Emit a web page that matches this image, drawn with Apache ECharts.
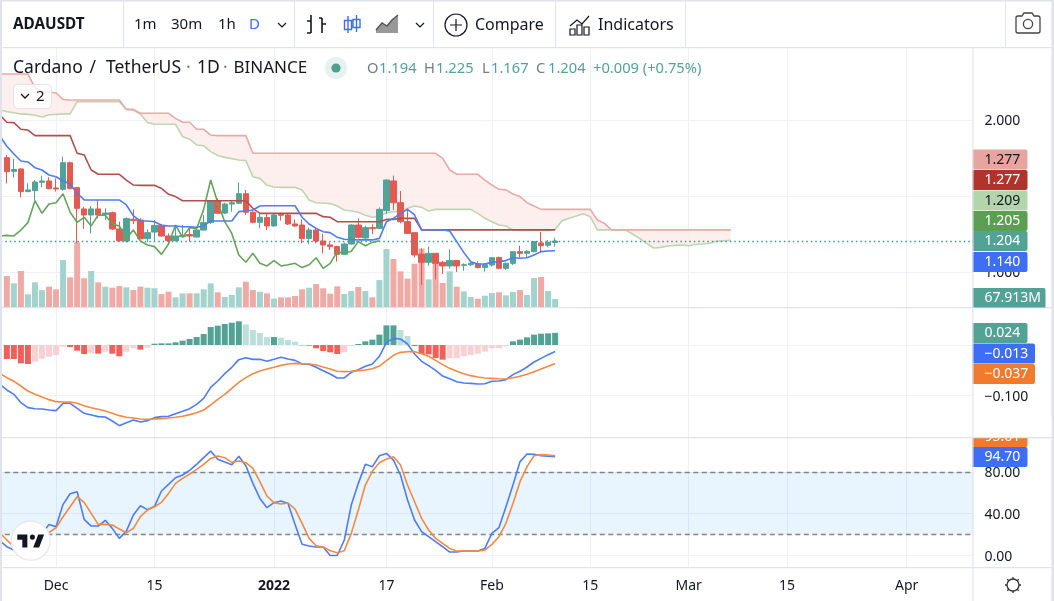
<!DOCTYPE html>
<html>
<head>
<meta charset="utf-8">
<title>ADAUSDT</title>
<script src="https://cdn.jsdelivr.net/npm/echarts@6/dist/echarts.min.js"></script>
<style>
  html, body { margin: 0; padding: 0; background: #fff; }
  #chart { width: 1054px; height: 601px; }
</style>
</head>
<body>
<div id="chart"></div>
<script>
// Daily sessions: the axis runs from 2021-11-23 to 2022-04-10.
function dayList(start, count) {
  const out = [];
  const t0 = Date.parse(start + 'T00:00:00Z');
  for (let k = 0; k < count; k++) out.push(new Date(t0 + k * 86400000).toISOString().slice(0, 10));
  return out;
}
const categories = dayList('2021-11-23', 139);
const tickLabels = {
  '2021-12-01': 'Dec', '2021-12-15': '15', '2022-01-01': '2022', '2022-01-17': '17',
  '2022-02-01': 'Feb', '2022-02-15': '15', '2022-03-01': 'Mar', '2022-03-15': '15', '2022-04-01': 'Apr'
};

// Candles start on 2021-11-24.
const opens = [1.752,1.662,1.678,1.529,1.535,1.590,1.599,1.553,1.544,1.719,1.555,1.415,1.375,1.415,1.379,1.390,1.283,1.204,1.347,1.342,1.219,1.263,1.307,1.237,1.206,1.232,1.246,1.230,1.276,1.325,1.469,1.388,1.447,1.452,1.515,1.393,1.327,1.358,1.303,1.379,1.375,1.316,1.309,1.221,1.276,1.204,1.178,1.167,1.116,1.184,1.309,1.224,1.292,1.287,1.404,1.599,1.456,1.331,1.259,1.118,1.064,1.123,1.064,1.040,1.075,1.044,1.048,1.053,1.029,1.046,1.096,1.024,1.057,1.134,1.123,1.134,1.191,1.176,1.194];
const highs = [1.770,1.743,1.682,1.583,1.605,1.634,1.623,1.616,1.759,1.726,1.561,1.430,1.434,1.474,1.419,1.397,1.331,1.360,1.412,1.353,1.281,1.342,1.316,1.254,1.309,1.309,1.287,1.281,1.375,1.474,1.485,1.456,1.469,1.590,1.540,1.401,1.386,1.386,1.386,1.390,1.382,1.346,1.346,1.292,1.285,1.250,1.195,1.173,1.193,1.314,1.353,1.305,1.314,1.425,1.610,1.634,1.533,1.419,1.259,1.156,1.167,1.123,1.072,1.149,1.075,1.057,1.075,1.070,1.057,1.096,1.101,1.061,1.134,1.173,1.145,1.200,1.263,1.211,1.225];
const lows = [1.583,1.621,1.491,1.525,1.469,1.557,1.544,1.529,1.535,1.544,1.189,1.283,1.254,1.353,1.342,1.276,1.200,1.193,1.316,1.215,1.195,1.200,1.232,1.178,1.200,1.232,1.200,1.226,1.272,1.316,1.382,1.382,1.397,1.447,1.375,1.320,1.287,1.276,1.298,1.338,1.309,1.296,1.189,1.182,1.189,1.123,1.145,1.068,1.112,1.180,1.221,1.217,1.250,1.283,1.382,1.408,1.320,1.250,1.096,0.915,1.040,0.952,0.987,1.022,1.000,1.009,1.040,1.024,1.002,1.035,1.018,1.013,1.046,1.096,1.096,1.129,1.127,1.162,1.167];
const closes = [1.660,1.675,1.529,1.540,1.592,1.599,1.548,1.546,1.719,1.550,1.419,1.375,1.415,1.375,1.388,1.283,1.206,1.351,1.338,1.219,1.259,1.307,1.237,1.206,1.237,1.241,1.237,1.276,1.325,1.469,1.386,1.447,1.456,1.515,1.393,1.327,1.360,1.303,1.375,1.373,1.316,1.303,1.221,1.276,1.204,1.178,1.167,1.116,1.184,1.309,1.228,1.292,1.285,1.412,1.605,1.456,1.331,1.254,1.112,1.064,1.123,1.057,1.040,1.075,1.040,1.048,1.057,1.029,1.048,1.094,1.024,1.057,1.134,1.123,1.136,1.200,1.173,1.195,1.204];
// Volume in millions, same dates as the candles.
const volumes = [263,201,306,108,210,144,173,150,399,252,550,244,306,210,173,164,178,167,144,173,164,159,110,130,82,116,116,116,150,201,125,85,102,167,215,144,130,116,71,82,82,93,150,164,195,159,113,176,110,136,170,136,82,229,493,408,303,241,368,496,235,380,204,303,173,133,85,71,96,119,125,99,128,144,102,246,255,136,67.913];

// Ichimoku lines, from 2021-11-23. The two cloud spans run 25 sessions past the last candle.
const conversionLine = [1.895,1.827,1.776,1.730,1.724,1.686,1.671,1.638,1.627,1.599,1.579,1.518,1.474,1.474,1.474,1.474,1.474,1.474,1.441,1.369,1.336,1.336,1.331,1.307,1.303,1.303,1.298,1.298,1.294,1.303,1.336,1.336,1.336,1.336,1.397,1.401,1.408,1.434,1.436,1.436,1.436,1.436,1.436,1.360,1.316,1.287,1.265,1.259,1.228,1.215,1.213,1.211,1.211,1.211,1.221,1.331,1.353,1.386,1.412,1.375,1.277,1.277,1.277,1.277,1.270,1.200,1.129,1.068,1.053,1.053,1.064,1.068,1.075,1.094,1.090,1.094,1.112,1.134,1.138,1.140];
const baseLine = [2.033,1.985,1.983,1.939,1.934,1.897,1.897,1.897,1.897,1.897,1.897,1.781,1.770,1.671,1.643,1.643,1.643,1.643,1.605,1.572,1.570,1.570,1.570,1.550,1.511,1.496,1.469,1.469,1.469,1.469,1.469,1.469,1.469,1.469,1.469,1.469,1.419,1.386,1.386,1.386,1.386,1.386,1.386,1.386,1.386,1.386,1.364,1.360,1.331,1.331,1.331,1.331,1.331,1.331,1.331,1.346,1.346,1.353,1.353,1.353,1.277,1.277,1.277,1.277,1.277,1.277,1.277,1.277,1.277,1.277,1.277,1.277,1.277,1.277,1.277,1.277,1.277,1.277,1.277,1.277];
const laggingSpan = [1.237,1.241,1.237,1.276,1.325,1.469,1.386,1.447,1.456,1.515,1.393,1.327,1.360,1.303,1.375,1.373,1.316,1.303,1.221,1.276,1.204,1.178,1.167,1.116,1.184,1.309,1.228,1.292,1.285,1.412,1.605,1.456,1.331,1.254,1.112,1.064,1.123,1.057,1.040,1.075,1.040,1.048,1.057,1.029,1.048,1.094,1.024,1.057,1.134,1.123,1.136,1.200,1.173,1.195,1.205];
const leadingSpanA = [2.066,2.055,2.048,2.040,2.037,2.031,2.020,2.035,2.037,2.040,2.040,2.121,2.121,2.121,2.121,2.121,2.121,2.121,2.070,2.064,2.040,1.983,1.972,1.972,1.972,1.972,1.890,1.875,1.836,1.831,1.792,1.766,1.754,1.746,1.737,1.733,1.627,1.616,1.572,1.559,1.557,1.557,1.557,1.540,1.474,1.456,1.454,1.450,1.434,1.408,1.401,1.393,1.373,1.360,1.368,1.390,1.397,1.397,1.419,1.434,1.425,1.401,1.412,1.412,1.412,1.412,1.412,1.412,1.386,1.353,1.331,1.309,1.303,1.276,1.274,1.274,1.274,1.274,1.274,1.281,1.338,1.353,1.368,1.384,1.364,1.277,1.277,1.277,1.277,1.277,1.250,1.222,1.189,1.158,1.162,1.171,1.175,1.178,1.173,1.182,1.184,1.189,1.204,1.206,1.209];
const leadingSpanB = [2.303,2.303,2.303,2.303,2.303,2.211,2.184,2.184,2.178,2.135,2.132,2.132,2.132,2.132,2.132,2.132,2.132,2.132,2.070,2.070,2.044,2.044,2.044,2.044,2.044,2.011,1.985,1.985,1.939,1.939,1.901,1.897,1.897,1.897,1.897,1.897,1.781,1.781,1.781,1.781,1.781,1.781,1.781,1.781,1.781,1.781,1.781,1.781,1.781,1.781,1.781,1.781,1.781,1.781,1.781,1.781,1.781,1.781,1.781,1.781,1.781,1.781,1.781,1.748,1.671,1.643,1.643,1.643,1.643,1.605,1.572,1.544,1.540,1.513,1.496,1.456,1.434,1.412,1.412,1.412,1.412,1.412,1.412,1.412,1.412,1.342,1.320,1.277,1.277,1.277,1.277,1.277,1.277,1.277,1.277,1.277,1.277,1.277,1.277,1.277,1.277,1.277,1.277,1.277,1.277];

// MACD pane. The histogram starts on 2021-11-24, both lines on 2021-11-23.
const macdHist = [-0.0277,-0.0277,-0.0363,-0.0376,-0.0330,-0.0271,-0.0231,-0.0198,-0.0033,-0.0040,-0.0112,-0.0178,-0.0165,-0.0172,-0.0132,-0.0172,-0.0224,-0.0132,-0.0066,-0.0092,-0.0053,0.0026,0.0033,0.0033,0.0053,0.0086,0.0119,0.0158,0.0218,0.0356,0.0383,0.0416,0.0442,0.0469,0.0409,0.0297,0.0238,0.0158,0.0158,0.0145,0.0099,0.0066,-0.0007,-0.0013,-0.0066,-0.0119,-0.0145,-0.0178,-0.0145,-0.0020,0.0020,0.0073,0.0106,0.0205,0.0389,0.0389,0.0297,0.0178,-0.0020,-0.0178,-0.0185,-0.0257,-0.0290,-0.0264,-0.0262,-0.0224,-0.0198,-0.0172,-0.0132,-0.0066,-0.0064,-0.0026,0.0073,0.0106,0.0152,0.0205,0.0224,0.0231,0.024];
const macdLine = [-0.0780,-0.0891,-0.0977,-0.1142,-0.1241,-0.1261,-0.1267,-0.1287,-0.1300,-0.1155,-0.1155,-0.1254,-0.1353,-0.1386,-0.1419,-0.1426,-0.1505,-0.1597,-0.1538,-0.1485,-0.1525,-0.1498,-0.1439,-0.1419,-0.1412,-0.1360,-0.1313,-0.1261,-0.1175,-0.1056,-0.0838,-0.0713,-0.0568,-0.0442,-0.0290,-0.0251,-0.0284,-0.0284,-0.0323,-0.0284,-0.0244,-0.0277,-0.0304,-0.0376,-0.0383,-0.0442,-0.0508,-0.0574,-0.0653,-0.0653,-0.0541,-0.0488,-0.0422,-0.0376,-0.0224,0.0053,0.0132,0.0119,0.0020,-0.0178,-0.0323,-0.0409,-0.0502,-0.0614,-0.0667,-0.0726,-0.0752,-0.0759,-0.0772,-0.0766,-0.0719,-0.0713,-0.0686,-0.0587,-0.0521,-0.0436,-0.0337,-0.0264,-0.0191,-0.013];
const signalLine = [-0.0561,-0.0647,-0.0719,-0.0812,-0.0911,-0.0977,-0.1030,-0.1082,-0.1122,-0.1129,-0.1129,-0.1155,-0.1201,-0.1241,-0.1274,-0.1307,-0.1353,-0.1399,-0.1432,-0.1445,-0.1465,-0.1472,-0.1465,-0.1459,-0.1445,-0.1432,-0.1412,-0.1379,-0.1340,-0.1287,-0.1188,-0.1076,-0.0977,-0.0858,-0.0739,-0.0647,-0.0568,-0.0515,-0.0475,-0.0442,-0.0403,-0.0376,-0.0363,-0.0370,-0.0376,-0.0396,-0.0436,-0.0475,-0.0521,-0.0528,-0.0521,-0.0508,-0.0495,-0.0469,-0.0416,-0.0310,-0.0205,-0.0145,-0.0132,-0.0132,-0.0172,-0.0224,-0.0304,-0.0389,-0.0462,-0.0521,-0.0568,-0.0607,-0.0634,-0.0653,-0.0660,-0.0667,-0.0673,-0.0647,-0.0620,-0.0581,-0.0528,-0.0475,-0.0422,-0.037];

// Stochastic RSI, from 2021-11-23.
const stochK = [14.0,8.4,5.2,5.2,10.0,14.8,21.2,29.8,27.6,49.0,59.2,61.1,34.6,28.2,28.2,33.7,26.0,16.4,23.4,38.8,47.7,43.9,47.1,61.8,68.1,74.5,77.1,81.6,87.3,93.7,100,92.1,89.5,87.0,95.0,86.0,69.1,54.7,45.8,50.6,52.2,49.9,29.8,10.7,9.1,8.1,8.1,0,0,14.8,48.3,69.1,87.3,85.1,95.6,97.8,91.4,77.1,53.1,34.0,22.8,18.0,13.2,8.4,3.3,3.3,4.3,4.3,4.3,6.8,21.2,26.6,46.7,67.5,89.9,97.2,96.9,95.6,95.0,94.70];
const stochD = [21.8,14.8,8.4,5.2,6.8,10.0,15.5,22.2,26.6,37.2,46.7,56.3,50.9,40.4,29.8,29.8,29.2,25.4,21.8,26.0,37.2,43.6,46.7,50.9,59.5,69.1,73.9,78.0,82.5,87.3,93.0,95.3,93.7,89.2,90.5,88.9,83.5,70.7,57.0,50.6,49.3,50.3,44.5,30.8,16.4,9.4,8.1,4.6,2.7,4.6,21.2,43.6,67.5,80.9,88.9,92.4,94.6,86.7,67.5,51.5,35.6,24.4,16.4,11.6,6.8,4.3,4.3,4.3,4.3,5.2,10.7,18.0,30.8,49.9,70.7,85.1,95.6,96.6,96.2,95.61];

// Palette
const UP = '#50a396', DOWN = '#e25a52';
const UP_SOFT = '#a3d3cd', DOWN_SOFT = '#f0aaa6';
const HIST_UP = '#52a396', HIST_UP_PALE = '#bcdfda', HIST_DOWN = '#f0605a', HIST_DOWN_PALE = '#f9d0d3';
const BLUE = '#4f7cf2', ORANGE = '#f08a45', KIJUN = '#b0504e', CHIKOU = '#66a45c';
const SPAN_A = '#bfd6b2', SPAN_B = '#e9aaa5', CLOUD = '#fbecea';
const GRID = '#eff0f5', EDGE = '#e0e3eb', INK = '#131722', MUTED = '#787b86';
const FONT = '"Noto Sans", sans-serif';

const pad = a => [null, ...a];
const candleData = pad(opens.map((o, i) => [o, closes[i], lows[i], highs[i]])).map(d => d || ['-', '-', '-', '-']);
const volumeData = pad(volumes.map((v, i) => ({ value: v, itemStyle: { color: closes[i] >= opens[i] ? UP_SOFT : DOWN_SOFT } })));
const histData = pad(macdHist.map((v, i) => {
  const prev = i ? macdHist[i - 1] : v;
  const strong = v >= 0 ? v >= prev : v <= prev;
  const color = v >= 0 ? (strong ? HIST_UP : HIST_UP_PALE) : (strong ? HIST_DOWN : HIST_DOWN_PALE);
  return { value: v, itemStyle: { color } };
}));

const isTick = idx => tickLabels[categories[idx]] !== undefined;
const line = (name, data, color, xAxisIndex, yAxisIndex, extra) => Object.assign({
  name, type: 'line', data, xAxisIndex, yAxisIndex, showSymbol: false, symbol: 'none', silent: true,
  lineStyle: { color, width: 1.6 }, z: 5
}, extra || {});

// Vertical date gridlines of one pane, on the centre of each labelled day
const dateLines = (xAxisIndex, yAxisIndex) => ({
  name: 'date grid ' + xAxisIndex, type: 'line', data: [], xAxisIndex, yAxisIndex, silent: true, z: 0,
  markLine: {
    silent: true, symbol: 'none', label: { show: false }, z: 0,
    lineStyle: { color: GRID, type: 'solid', width: 1 },
    data: Object.keys(tickLabels).map(day => ({ xAxis: day }))
  }
});

const xAxisBase = gridIndex => ({
  type: 'category', gridIndex, data: categories, boundaryGap: true,
  axisLine: { show: false }, axisTick: { show: false },
  axisLabel: { show: false },
  splitLine: { show: false }
});

const yAxisBase = (gridIndex, min, max, gridValues, labelValues, digits) => ({
  type: 'value', gridIndex, position: 'right', min, max, scale: true,
  axisLine: { show: false },
  axisTick: { show: false, customValues: gridValues },
  axisLabel: {
    show: true, customValues: labelValues, margin: 11, color: INK, fontSize: 14, fontFamily: FONT,
    verticalAlign: 'top', lineHeight: 3,
    formatter: v => v.toFixed(digits).replace('-', '\u2212')
  },
  splitLine: { show: true, lineStyle: { color: GRID, width: 1 } }
});

// Chrome and price tags sit on top of the panes
const txt = (x, y, text, o) => ({
  type: 'text', x, y, silent: true,
  style: Object.assign({ text, fill: INK, font: `15px ${FONT}`, textVerticalAlign: 'middle', textAlign: 'left' }, o || {})
});
const rect = (x, y, width, height, fill, extra) => Object.assign({ type: 'rect', silent: true, shape: { x, y, width, height }, style: { fill } }, extra || {});
// Icons are registered as shape classes built from their path strings
let iconCount = 0;
const icon = (d, style, extra) => {
  const name = 'toolbarIcon' + (iconCount++);
  echarts.graphic.registerShape(name, echarts.graphic.extendPath(d, {}));
  return Object.assign({ type: name, silent: true, style }, extra || {});
};
const stroke = (d, color, width) => icon(d, { fill: 'none', stroke: color || INK, lineWidth: width || 1.2 });
const tag = (top, w, bg, fg, text, h) => [
  { type: 'rect', silent: true, shape: { x: 972.5, y: top, width: w, height: h || 20, r: [0, 2, 2, 0] }, style: { fill: bg } },
  txt(984.5, top + 10.5, text, { fill: fg, font: `14px ${FONT}` })
];

const fmt3 = v => v.toFixed(3).replace('-', '\u2212');
const last = a => a[a.length - 1];
const HEADER = `17.5px ${FONT}`;
const OHLC = `14.7px ${FONT}`;

const chrome = [
  // Outer frame, pane dividers
  rect(0, 0, 1054, 1.5, EDGE),
  rect(0, 47, 1054, 1.2, EDGE),
  rect(0, 0, 2, 601, EDGE),
  rect(1051.5, 0, 2.5, 601, EDGE),
  rect(0, 307, 1052, 1.3, EDGE),
  rect(0, 437, 1052, 1.3, EDGE),
  rect(0, 567, 1052, 1.3, EDGE),
  rect(123, 0, 1, 47, EDGE), rect(294, 0, 1, 47, EDGE), rect(433, 0, 1, 47, EDGE),
  rect(555, 0, 1, 47, EDGE), rect(685, 0, 1, 47, EDGE), rect(1005, 0, 1, 47, EDGE),

  // Toolbar
  txt(13, 25, 'ADAUSDT', { font: `bold 15.3px ${FONT}` }),
  txt(134, 25, '1m'), txt(171, 25, '30m'), txt(218, 25, '1h'),
  txt(249, 25, 'D', { fill: '#3f6ff0' }),
  stroke('M278 23l4 4 4-4', INK, 1.2),
  stroke('M311 15v18M311 21h-4M311 33h-4M322 18v15M322 24h4M322 18h-3', INK, 1.6),
  stroke('M348 16v17M344.5 20.5h7v9h-7zM356.5 15v17M353 19.5h7v8h-7z', '#3f6ff0', 1.4),
  icon('M376 33v-3l6-7 5 3 5-6 6-5v18z', { fill: '#999', stroke: 'none' }),
  stroke('M376 30l6-7 5 3 5-6 6-5', '#555', 1.4),
  stroke('M416 23l4 4 4-4', INK, 1.2),
  { type: 'circle', silent: true, shape: { cx: 456, cy: 25, r: 11 }, style: { fill: 'none', stroke: INK, lineWidth: 1.2 } },
  stroke('M456 19v12M450 25h12', INK, 1.2),
  txt(475, 25, 'Compare', { font: `16px ${FONT}` }),
  stroke('M570 26l7-6 5 4 7-8M570 29h5v6h-5zM577 25h5v10h-5zM584 27h5v8h-5z', INK, 1.2),
  txt(598, 25, 'Indicators', { font: `16px ${FONT}` }),
  stroke('M1018 16h4l2-3h8l2 3h4a2 2 0 0 1 2 2v13a2 2 0 0 1-2 2h-20a2 2 0 0 1-2-2v-13a2 2 0 0 1 2-2z', '#444', 1.3),
  { type: 'circle', silent: true, shape: { cx: 1028, cy: 24, r: 4.6 }, style: { fill: 'none', stroke: '#444', lineWidth: 1.3 } },

  // Symbol header
  txt(13, 68, 'Cardano', { font: HEADER }),
  txt(89.5, 68, '/', { font: HEADER }),
  txt(106, 68, 'TetherUS', { font: HEADER }),
  txt(186, 68, '\u00b7', { font: HEADER, fill: MUTED }),
  txt(197, 68, '1D', { font: HEADER }),
  txt(223, 68, '\u00b7', { font: HEADER, fill: MUTED }),
  txt(233.5, 68, 'BINANCE', { font: `17px ${FONT}` }),
  { type: 'circle', silent: true, shape: { cx: 336, cy: 68, r: 11 }, style: { fill: '#e6f2f0' } },
  { type: 'circle', silent: true, shape: { cx: 336, cy: 68, r: 4.6 }, style: { fill: '#4f9f90' } },
  txt(367, 69, 'O', { fill: MUTED, font: OHLC }),
  txt(379, 69, opens[78].toFixed(3), { fill: UP, font: OHLC }),
  txt(424, 69, 'H', { fill: MUTED, font: OHLC }),
  txt(436, 69, highs[78].toFixed(3), { fill: UP, font: OHLC }),
  txt(482, 69, 'L', { fill: MUTED, font: OHLC }),
  txt(491, 69, lows[78].toFixed(3), { fill: UP, font: OHLC }),
  txt(536, 69, 'C', { fill: MUTED, font: OHLC }),
  txt(548, 69, closes[78].toFixed(3), { fill: UP, font: OHLC }),
  txt(593, 69, '+0.009 (+0.75%)', { fill: UP, font: OHLC }),

  // Collapse button for the indicator list
  { type: 'rect', silent: true, shape: { x: 13.5, y: 84.5, width: 38, height: 24, r: 4 }, style: { fill: 'rgba(255,255,255,0.75)', stroke: EDGE, lineWidth: 1 } },
  stroke('M21 94l4 4 4-4', INK, 1.3),
  txt(36, 96.5, '2', { font: `15px ${FONT}` }),

  // Last-value tags
  ...tag(149.5, 55, '#e8a5a0', INK, fmt3(last(leadingSpanB))),
  ...tag(170, 55, '#b0332c', '#fff', fmt3(last(baseLine))),
  ...tag(190.5, 55, '#b3d5ab', INK, fmt3(last(leadingSpanA))),
  ...tag(211, 55, '#5c9f53', '#fff', fmt3(last(laggingSpan))),
  ...tag(231, 55, '#52a396', '#fff', fmt3(last(closes))),
  ...tag(252, 55, '#3d6ef5', '#fff', fmt3(last(conversionLine))),
  { type: 'rect', silent: true, shape: { x: 972.5, y: 288, width: 73, height: 19.5, r: [0, 2, 0, 0] }, style: { fill: '#52a396' } },
  txt(984.5, 298.5, last(volumes).toFixed(3) + 'M', { fill: '#fff', font: `14px ${FONT}` }),
  ...tag(323, 55, '#52a396', '#fff', fmt3(last(macdHist))),
  ...tag(343.5, 62.5, '#3d6ef5', '#fff', fmt3(last(macdLine))),
  ...tag(364, 62.5, '#f07a2e', '#fff', fmt3(last(signalLine))),
  // The stochastic %D tag is cut off by the top of its pane
  ...tag(427, 55, '#f07a2e', '#fff', last(stochD).toFixed(2)),
  rect(972, 420, 79.5, 17, '#fff'),
  rect(972, 437, 79.5, 1.3, EDGE),
  ...tag(447, 55, '#3d6ef5', '#fff', last(stochK).toFixed(2)),
  rect(972.4, 48, 1.1, 553, EDGE),

  // Axis settings gear
  { type: 'circle', silent: true, shape: { cx: 1013, cy: 585, r: 6 }, style: { fill: 'none', stroke: '#333', lineWidth: 1.3 } },
  stroke('M1013 577v2M1013 591v2M1005 585h2M1019 585h2M1007.3 579.3l1.5 1.5M1017.2 589.2l1.5 1.5M1018.7 579.3l-1.5 1.5M1008.8 589.2l-1.5 1.5', '#333', 1.3),

  // Badge in the lower-left corner
  { type: 'circle', silent: true, shape: { cx: 30.7, cy: 540.7, r: 19.5 }, style: { fill: '#fff', stroke: '#e6e8ee', lineWidth: 1.2 } },
  icon('M14 6H2v6h6v9h6V6zm14 15h-7l6-15h7l-6 15zm-8-9a3 3 0 1 0 0-6 3 3 0 0 0 0 6z', { fill: INK }, { x: 15.6, y: 529.1, scaleX: 0.84, scaleY: 0.88 })
].map(el => Object.assign({ z: 100 }, el));

const chart = echarts.init(document.getElementById('chart'), null, { renderer: 'canvas' });
const cloudGap = leadingSpanB.map((b, i) => +(b - leadingSpanA[i]).toFixed(3));

chart.setOption({
  animation: false,
  backgroundColor: '#fff',
  grid: [
    { left: -3.7, width: 977.1, top: 48, height: 259, outerBoundsMode: 'none' },
    { left: -3.7, width: 977.1, top: 308, height: 129, outerBoundsMode: 'none' },
    { left: -3.7, width: 977.1, top: 438, height: 129.5, outerBoundsMode: 'none' }
  ],
  xAxis: [
    xAxisBase(0),
    xAxisBase(1),
    Object.assign(xAxisBase(2), {
      axisLabel: {
        show: true, margin: 12, color: INK, fontSize: 14, fontFamily: FONT,
        interval: idx => isTick(idx),
        formatter: value => {
          const t = tickLabels[value] || '';
          return t === '2022' ? '{strong|2022}' : t;
        },
        rich: { strong: { fontWeight: 'bold', fontSize: 14, fontFamily: FONT, color: INK } }
      }
    })
  ],
  yAxis: [
    yAxisBase(0, 0.7697, 2.4737, [1, 1.5, 2], [1, 2], 3),
    { type: 'value', gridIndex: 0, show: false, min: 0, max: 2201.5, splitLine: { show: false } },
    yAxisBase(1, -0.1822, 0.0733, [-0.1, 0], [-0.1], 3),
    yAxisBase(2, -11.49, 112.55, [0, 40, 80], [0, 40, 80], 2)
  ],
  series: [
    dateLines(0, 0),
    dateLines(1, 2),
    dateLines(2, 3),
    // Cloud body, stacked from span A up to span B
    { name: 'cloud base', type: 'line', stack: 'cloud', data: leadingSpanA, xAxisIndex: 0, yAxisIndex: 0, silent: true, symbol: 'none', lineStyle: { width: 0 }, z: 1 },
    { name: 'cloud', type: 'line', stack: 'cloud', data: cloudGap, xAxisIndex: 0, yAxisIndex: 0, silent: true, symbol: 'none', lineStyle: { width: 0 }, areaStyle: { color: CLOUD, opacity: 0.85 }, z: 1 },
    { name: 'Volume', type: 'bar', data: volumeData, xAxisIndex: 0, yAxisIndex: 1, barWidth: 6, silent: true, z: 2 },
    line('Leading Span A', leadingSpanA, SPAN_A, 0, 0, { z: 3 }),
    line('Leading Span B', leadingSpanB, SPAN_B, 0, 0, { z: 3 }),
    {
      name: 'ADAUSDT', type: 'candlestick', data: candleData, xAxisIndex: 0, yAxisIndex: 0, barWidth: 6, silent: true, z: 4,
      itemStyle: { color: UP, color0: DOWN, borderColor: UP, borderColor0: DOWN, borderWidth: 1 },
      markLine: {
        silent: true, symbol: 'none', label: { show: false },
        lineStyle: { color: '#2f9e8c', type: [1.5, 3], width: 1.3 },
        data: [{ yAxis: last(closes) }]
      }
    },
    line('Lagging Span', laggingSpan, CHIKOU, 0, 0),
    line('Base Line', baseLine, KIJUN, 0, 0),
    line('Conversion Line', conversionLine, BLUE, 0, 0),

    { name: 'Histogram', type: 'bar', data: histData, xAxisIndex: 1, yAxisIndex: 2, barWidth: 6, silent: true, z: 2 },
    line('MACD', macdLine, BLUE, 1, 2),
    line('Signal', signalLine, ORANGE, 1, 2),

    line('%K', stochK, BLUE, 2, 3, {
      markArea: { silent: true, itemStyle: { color: 'rgba(33,150,243,0.1)' }, data: [[{ yAxis: 80 }, { yAxis: 20 }]] },
      markLine: {
        silent: true, symbol: 'none', label: { show: false },
        lineStyle: { color: '#808390', type: [5, 3.5], width: 1.3 },
        data: [{ yAxis: 80 }, { yAxis: 20 }]
      }
    }),
    line('%D', stochD, ORANGE, 2, 3)
  ],
  graphic: { elements: [{ type: 'group', silent: true, children: chrome }] }
});
</script>
</body>
</html>
